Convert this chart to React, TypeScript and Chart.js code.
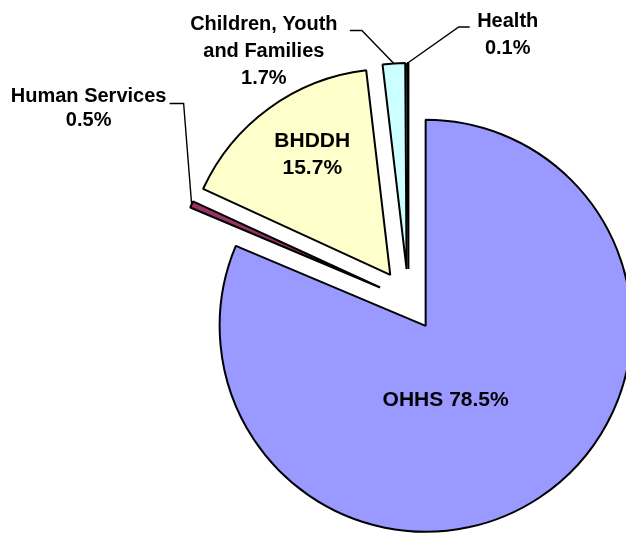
import React, { useEffect, useRef } from "react";
import { Chart, registerables } from "chart.js";

Chart.register(...registerables);

// ---- data ----
const categories = ["OHHS", "Human Services", "BHDDH", "Children, Youth and Families", "Health"];
const values = [78.5, 0.5, 15.7, 1.7, 0.1];
const labelNames = [["OHHS"], ["Human Services"], ["BHDDH"], ["Children, Youth", "and Families"], ["Health"]];
const colors = ["#9999FF", "#993366", "#FFFFCC", "#CCFFFF", "#660066"];

// ---- layout / style ----
const W = 626;
const H = 533;
const RADIUS = 206;
const EXPLODE = 31;
const FONT = '"Liberation Sans", Arial, sans-serif';

type Lay =
  | { kind: "inside"; inline?: boolean; dx: number; dy: number; size: number; lh: number }
  | { kind: "outside"; ex: number; ey: number; hx: number; tx: number; ty: number; size: number; lh: number };

const labelLayout: Lay[] = [
  { kind: "inside", inline: true, dx: 20, dy: 80, size: 21, lh: 27 },
  { kind: "outside", ex: -8, ey: -101, hx: -14, tx: -95, ty: -1, size: 20, lh: 24 },
  { kind: "inside", dx: -78, dy: -128, size: 21, lh: 27 },
  { kind: "outside", ex: -32, ey: -33, hx: -12, tx: -98, ty: 0, size: 20, lh: 26.7 },
  { kind: "outside", ex: 51, ey: -36, hx: 11, tx: 49, ty: 0, size: 20, lh: 27 },
];

function linesFor(i: number): string[] {
  const pct = values[i].toFixed(1) + "%";
  const lay = labelLayout[i] as any;
  if (lay.inline) return [labelNames[i].join(" ") + " " + pct];
  return [...labelNames[i], pct];
}

const explodePlugin = {
  id: "explodeSlices",
  beforeDatasetsDraw(chart: any) {
    const meta = chart.getDatasetMeta(0);
    const a = chart.chartArea;
    const cx = (a.left + a.right) / 2;
    const cy = (a.top + a.bottom) / 2;
    meta.data.forEach((arc: any) => {
      const mid = (arc.startAngle + arc.endAngle) / 2;
      arc.x = cx + Math.cos(mid) * EXPLODE;
      arc.y = cy + Math.sin(mid) * EXPLODE;
    });
  },
};

const labelPlugin = {
  id: "sliceLabels",
  afterDatasetsDraw(chart: any) {
    const ctx = chart.ctx as CanvasRenderingContext2D;
    const meta = chart.getDatasetMeta(0);
    meta.data.forEach((arc: any, i: number) => {
      const L = labelLayout[i];
      const lines = linesFor(i);
      ctx.save();
      ctx.fillStyle = "#000";
      ctx.strokeStyle = "#000";
      ctx.font = `bold ${L.size}px ${FONT}`;
      ctx.textAlign = "center";
      ctx.textBaseline = "alphabetic";
      if (L.kind === "inside") {
        lines.forEach((t, k) => ctx.fillText(t, arc.x + L.dx, arc.y + L.dy + k * L.lh));
      } else {
        const mid = (arc.startAngle + arc.endAngle) / 2;
        const ox = arc.x + Math.cos(mid) * arc.outerRadius;
        const oy = arc.y + Math.sin(mid) * arc.outerRadius;
        const ex = ox + L.ex;
        const ey = oy + L.ey;
        ctx.beginPath();
        ctx.moveTo(ox, oy);
        ctx.lineTo(ex, ey);
        ctx.lineTo(ex + L.hx, ey);
        ctx.lineWidth = 1.4;
        ctx.stroke();
        lines.forEach((t, k) => ctx.fillText(t, ex + L.tx, ey + L.ty + k * L.lh));
      }
      ctx.restore();
    });
  },
};

export default function App() {
  const ref = useRef<HTMLCanvasElement>(null);
  useEffect(() => {
    const canvas = ref.current;
    if (!canvas) return;
    const chart = new Chart(canvas, {
      type: "pie",
      data: {
        labels: categories,
        datasets: [
          {
            data: values,
            backgroundColor: colors,
            borderColor: "#000",
            borderWidth: 2,
            radius: RADIUS,
            clip: false,
          } as any,
        ],
      },
      options: {
        responsive: false,
        animation: false,
        devicePixelRatio: 1,
        layout: { padding: { left: 191, right: 0, top: 67, bottom: 0 } },
        plugins: { legend: { display: false }, tooltip: { enabled: false } },
        events: [],
      },
      plugins: [explodePlugin, labelPlugin],
    });
    return () => chart.destroy();
  }, []);
  return (
    <div style={{ position: "fixed", left: 0, top: 0, width: W, height: H, background: "#fff" }}>
      <canvas ref={ref} width={W} height={H} style={{ display: "block", width: W, height: H }} />
    </div>
  );
}
